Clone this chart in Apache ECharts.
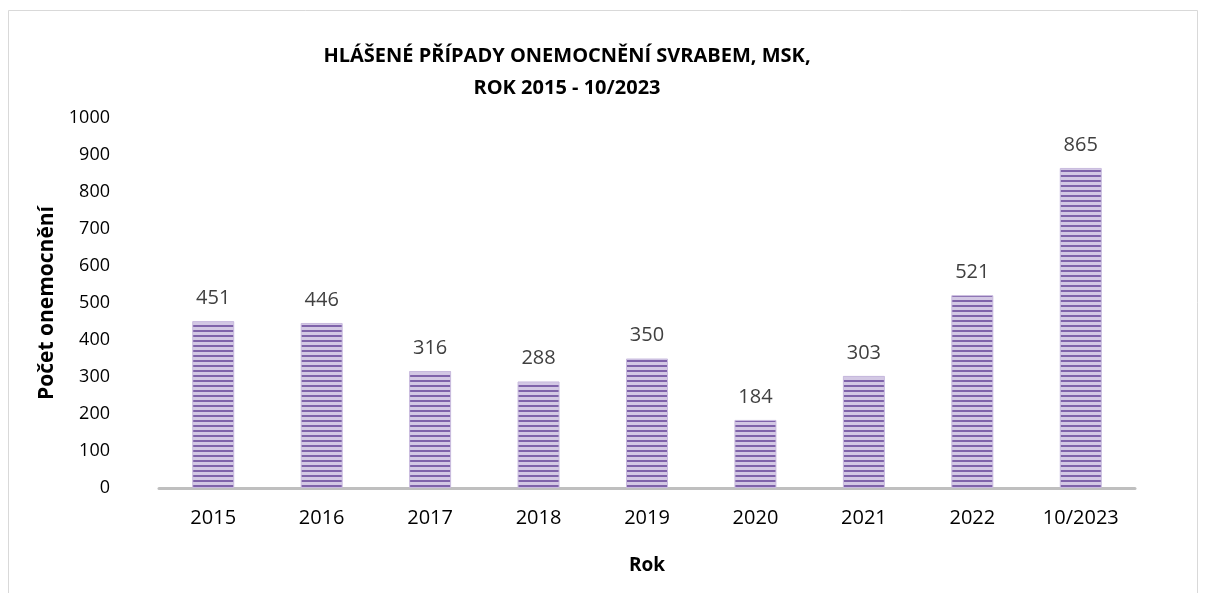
<!DOCTYPE html>
<html>
<head>
<meta charset="utf-8">
<script src="https://cdn.jsdelivr.net/npm/echarts@6/dist/echarts.min.js"></script>
<style>
  html, body { margin: 0; padding: 0; background: #fff; }
  #main { width: 1207px; height: 593px; }
</style>
</head>
<body>
<div id="main"></div>
<script>
var categories = ['2015', '2016', '2017', '2018', '2019', '2020', '2021', '2022', '10/2023'];
var cases = [451, 446, 316, 288, 350, 184, 303, 521, 865];
var yTicks = { min: 0, max: 1000, interval: 100 };

// horizontal stripes like the original fill
function stripes() {
  var c = document.createElement('canvas');
  c.width = 8;
  c.height = 5;
  var ctx = c.getContext('2d');
  ctx.fillStyle = '#d3c8e4';
  ctx.fillRect(0, 0, 8, 5);
  ctx.fillStyle = '#7f63aa';
  ctx.fillRect(0, 0, 8, 2);
  return c;
}

var chart = echarts.init(document.getElementById('main'), null, { renderer: 'canvas' });

var option = {
  backgroundColor: '#fff',
  animation: false,
  title: {
    text: 'HLÁŠENÉ PŘÍPADY ONEMOCNĚNÍ SVRABEM, MSK,\nROK 2015 - 10/2023',
    left: 562,
    top: 35,
    textAlign: 'center',
    textStyle: {
      fontFamily: 'Open Sans',
      fontWeight: 'bold',
      fontSize: 20,
      lineHeight: 32,
      color: '#000'
    }
  },
  grid: { left: 159, right: 72, top: 118, bottom: 105 },
  xAxis: {
    type: 'category',
    data: categories,
    name: 'Rok',
    nameLocation: 'middle',
    nameGap: 68,
    nameTextStyle: { fontFamily: 'Open Sans', fontWeight: 'bold', fontSize: 19, color: '#000' },
    axisLine: { lineStyle: { color: '#bfbfbf', width: 3 } },
    axisTick: { show: false },
    axisLabel: { fontFamily: 'Open Sans', fontSize: 20, color: '#000', margin: 20 }
  },
  yAxis: {
    type: 'value',
    min: yTicks.min,
    max: yTicks.max,
    interval: yTicks.interval,
    name: 'Počet onemocnění',
    nameLocation: 'middle',
    nameGap: 98,
    nameTextStyle: { fontFamily: 'Open Sans', fontWeight: 'bold', fontSize: 21, color: '#000' },
    axisLine: { show: false },
    axisTick: { show: false },
    splitLine: { show: false },
    axisLabel: {
      fontFamily: 'Open Sans', fontSize: 18, color: '#000', margin: 49,
      formatter: function (v) { return String(v); }
    }
  },
  series: [{
    type: 'bar',
    data: cases,
    barWidth: 42,
    itemStyle: {
      color: { image: stripes(), repeat: 'repeat' },
      borderColor: '#c8bade',
      borderWidth: 1
    },
    label: {
      show: true,
      position: 'top',
      distance: 13,
      fontFamily: 'Open Sans',
      fontSize: 20,
      color: '#404040'
    }
  }],
  graphic: [{
    type: 'rect',
    shape: { x: 8.5, y: 10.5, width: 1189, height: 600 },
    style: { fill: 'none', stroke: '#d9d9d9', lineWidth: 1 },
    silent: true
  }]
};

chart.setOption(option);
</script>
</body>
</html>
